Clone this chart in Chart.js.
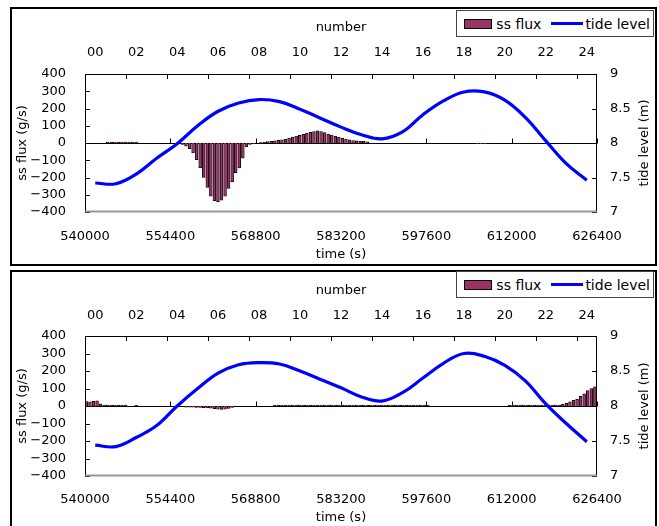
<!DOCTYPE html>
<html lang="en">
<head>
<meta charset="UTF-8">
<title>ss flux / tide level</title>
<script src="https://cdn.jsdelivr.net/npm/chart.js"></script>
<style>
    body {
        margin: 0;
        width: 659px;
        height: 526px;
        overflow: hidden;
        position: relative;
        background: #fff;
        font-family: "DejaVu Sans", sans-serif;
    }
    .panel {
        position: absolute;
        left: 10px;
        width: 643px;
        border: 2px solid #000;
        background: #fff;
    }
    #panel1 { top: 7px; height: 255px; }
    #panel2 { top: 270px; height: 260px; }
    .panel canvas { position: absolute; left: 0; top: 0; }
    .legend {
        position: absolute;
        right: 1px;
        height: 25px;
        display: flex;
        align-items: center;
        border: 1px solid #444;
        background: #fff;
        font-size: 14px;
        color: #000;
        padding: 0 3px 0 7px;
        white-space: nowrap;
    }
    #panel1 .legend { top: 1px; }
    #panel2 .legend { top: -1px; }
    .legend .sw {
        box-sizing: border-box;
        width: 28px;
        height: 10px;
        border: 1px solid #000;
        background: #993366;
        margin-right: 4px;
    }
    .legend .ln {
        width: 32px;
        height: 3px;
        background: #0000ff;
        margin: 0 2px 0 10px;
    }
</style>
</head>
<body>
<div class="panel" id="panel1">
    <canvas id="chart1" width="643" height="255"></canvas>
    <div class="legend"><span class="sw"></span>ss flux<span class="ln"></span>tide level</div>
</div>
<div class="panel" id="panel2">
    <canvas id="chart2" width="643" height="260"></canvas>
    <div class="legend"><span class="sw"></span>ss flux<span class="ln"></span>tide level</div>
</div>

<script>
    // hours on the top "number" axis, one tide value per hour
    const hours = [0, 1, 2, 3, 4, 5, 6, 7, 8, 9, 10, 11, 12, 13, 14, 15, 16, 17, 18, 19, 20, 21, 22, 23, 24];
    const hourLabels = [0, 2, 4, 6, 8, 10, 12, 14, 16, 18, 20, 22, 24];
    const hourTickMarks = [1.5, 3.5, 5.5, 7.5, 9.5, 11.5, 13.5, 15.5, 17.5, 19.5, 21.5, 23.5];

    const tideTop = [7.42, 7.41, 7.55, 7.78, 7.99, 8.25, 8.46, 8.58, 8.63, 8.60, 8.49, 8.36, 8.23,
        8.12, 8.06, 8.16, 8.41, 8.61, 8.74, 8.74, 8.62, 8.37, 8.03, 7.70, 7.46];
    const tideBottom = [7.44, 7.42, 7.55, 7.72, 8.00, 8.25, 8.47, 8.59, 8.62, 8.60, 8.50, 8.38, 8.26,
        8.13, 8.07, 8.19, 8.40, 8.61, 8.75, 8.71, 8.58, 8.36, 8.03, 7.75, 7.49];

    // time axis: 540000 .. 626400 s, flux every 600 s (145 bars)
    const timeTicks = [540000, 554400, 568800, 583200, 597600, 612000, 626400];
    const times = Array.from({length: 145}, (_, i) => 540000 + i * 600);
    const fluxTicks = [-400, -300, -200, -100, 0, 100, 200, 300, 400];
    const tideTicks = [7, 7.5, 8, 8.5, 9];

    const fluxTop = [
        0, 0, 0, 0, 0, 0, 6, 6, 6, 6, 6, 6, 6, 6, 6, 0, 0, 0, 0, 0,
        0, 0, 0, 0, 0, 0, 0, -8, -19, -33, -58, -96, -143, -200, -258, -308, -335, -341, -331, -308,
        -264, -225, -173, -145, -88, -23, -8, -4, 0, 3, 6, 8, 10, 12, 15, 19, 23, 29, 35, 40,
        44, 50, 58, 62, 66, 70, 66, 60, 52, 46, 39, 34, 29, 23, 18, 14, 12, 10, 9, 7,
        0, 0, 0, 0, 0, 0, 0, 0, 0, 0, 0, 0, 0, 0, 0, 0, 0, 0, 0, 0,
        0, 0, 0, 0, 0, 0, 0, 0, 0, 0, -4, -4, -4, 0, 0, 0, 0, 0, 0, 0,
        0, 0, 0, 0, 0, 0, 0, 0, 0, 0, 0, 0, 0, 0, 0, 0, 0, 0, 0, 0,
        0, 0, 0, 0, 0
    ];
    const fluxBottom = [
        25, 24, 26, 30, 12, 5, 5, 5, 5, 5, 5, 5, 0, 0, 4, 0, 0, 0, 0, 0,
        0, 0, 0, 0, 0, 0, 0, 0, -6, -7, -7, -8, -8, -9, -11, -12, -16, -18, -20, -18,
        -14, -8, 0, 0, 0, 0, 0, 0, 0, 0, 0, 0, 0, 5, 5, 5, 5, 5, 5, 5,
        5, 5, 5, 5, 5, 5, 5, 5, 5, 5, 5, 5, 5, 5, 5, 5, 5, 5, 5, 5,
        5, 5, 5, 5, 5, 5, 5, 5, 5, 5, 5, 5, 5, 5, 5, 5, 5, 0, 0, 0,
        0, 0, 0, 0, 0, 0, 0, 0, 0, 0, 0, 0, 0, 0, 0, 0, 0, 0, 0, 5,
        5, 5, 5, 5, 5, 5, 5, 5, 5, 5, 5, 5, 5, 5, 10, 16, 24, 32, 38, 55,
        70, 88, 100, 110, 120
    ];

    Chart.defaults.font.family = '"DejaVu Sans", sans-serif';
    Chart.defaults.font.size = 13;
    Chart.defaults.color = '#000';

    // ticks drawn inside the plot, zero line with ticks, plot frame, right title
    const frame = {
        id: 'frame',
        beforeDatasetsDraw(chart) {
            const {ctx, chartArea: a, scales} = chart;
            const px = v => Math.round(v) + 0.5;
            const y0 = px(scales.y.getPixelForValue(0));
            ctx.save();
            ctx.strokeStyle = '#000';
            ctx.lineWidth = 1;
            ctx.beginPath();
            ctx.moveTo(a.left, y0);
            ctx.lineTo(a.right, y0);
            scales.y.ticks.forEach(t => {
                const p = px(scales.y.getPixelForValue(t.value));
                ctx.moveTo(a.left, p);
                ctx.lineTo(a.left + 5, p);
            });
            scales.y2.ticks.forEach(t => {
                const p = px(scales.y2.getPixelForValue(t.value));
                ctx.moveTo(a.right - 5, p);
                ctx.lineTo(a.right, p);
            });
            scales.x.ticks.forEach(t => {
                const p = px(scales.x.getPixelForValue(t.value));
                ctx.moveTo(p, y0);
                ctx.lineTo(p, y0 - 5);
            });
            hourTickMarks.forEach(h => {
                const p = px(scales.xTop.getPixelForValue(h));
                ctx.moveTo(p, a.top);
                ctx.lineTo(p, a.top + 5);
            });
            ctx.stroke();
            ctx.restore();
        },
        afterDatasetsDraw(chart) {
            const {ctx, chartArea: a} = chart;
            const l = Math.round(a.left) + 0.5, r = Math.round(a.right) - 0.5;
            const t = Math.round(a.top) + 0.5, b = Math.round(a.bottom) - 0.5;
            ctx.save();
            ctx.lineWidth = 1;
            ctx.strokeStyle = '#000';
            ctx.beginPath();
            ctx.moveTo(l, b);
            ctx.lineTo(l, t);
            ctx.lineTo(r, t);
            ctx.lineTo(r, b);
            ctx.stroke();
            ctx.strokeStyle = '#999';
            ctx.lineWidth = 2;
            ctx.beginPath();
            ctx.moveTo(l, b);
            ctx.lineTo(r, b);
            ctx.stroke();
            ctx.restore();
        },
        afterDraw(chart) {
            const {ctx, chartArea: a} = chart;
            ctx.save();
            ctx.font = '13px "DejaVu Sans"';
            ctx.fillStyle = '#000';
            ctx.textAlign = 'center';
            ctx.textBaseline = 'middle';
            ctx.translate(chart.width - 10, (a.top + a.bottom) / 2);
            ctx.rotate(-Math.PI / 2);
            ctx.fillText('tide level (m)', 0, 0);
            ctx.restore();
        }
    };

    function makeChart(id, flux, tide, d) {
        new Chart(document.getElementById(id), {
            type: 'bar',
            data: {
                datasets: [{
                    type: 'line',
                    label: 'tide level',
                    data: hours.map((h, i) => ({x: h, y: tide[i]})),
                    xAxisID: 'xTop',
                    yAxisID: 'y2',
                    borderColor: '#0000ff',
                    borderWidth: 3.2,
                    pointRadius: 0,
                    tension: 0.4,
                    fill: false,
                    order: 0
                }, {
                    type: 'bar',
                    label: 'ss flux',
                    data: times.map((t, i) => ({x: t, y: flux[i]})),
                    xAxisID: 'x',
                    yAxisID: 'y',
                    backgroundColor: '#993366',
                    borderColor: '#000',
                    borderWidth: 0.8,
                    barThickness: 2.8,
                    order: 1
                }]
            },
            options: {
                responsive: false,
                animation: false,
                events: [],
                layout: {padding: 0},
                plugins: {legend: {display: false}, tooltip: {enabled: false}},
                scales: {
                    x: {
                        type: 'linear',
                        position: 'bottom',
                        min: 540000,
                        max: 626400,
                        offset: false,
                        grid: {display: false, drawTicks: false, offset: false},
                        border: {display: false},
                        afterBuildTicks: s => { s.ticks = timeTicks.map(v => ({value: v})); },
                        afterFit: s => { s.height = d.bottom; },
                        ticks: {padding: d.xPad, maxRotation: 0, autoSkip: false, callback: v => String(v)},
                        title: {display: true, text: 'time (s)', padding: {top: 0, bottom: d.xTitle}}
                    },
                    xTop: {
                        type: 'linear',
                        position: 'top',
                        min: -0.5,
                        max: 24.5,
                        offset: false,
                        grid: {display: false, drawTicks: false, offset: false},
                        border: {display: false},
                        afterBuildTicks: s => { s.ticks = hourLabels.map(v => ({value: v})); },
                        afterFit: s => { s.height = d.top; },
                        ticks: {padding: d.topPad, maxRotation: 0, autoSkip: false,
                            callback: v => String(v).padStart(2, '0')},
                        title: {display: true, text: 'number', padding: {top: 11, bottom: 0}}
                    },
                    y: {
                        position: 'left',
                        min: -400,
                        max: 400,
                        grid: {display: false, drawTicks: false},
                        border: {display: false},
                        afterBuildTicks: s => { s.ticks = fluxTicks.map(v => ({value: v})); },
                        afterFit: s => { s.width = 73; },
                        ticks: {padding: 19, autoSkip: false,
                            callback: v => v < 0 ? '\u2212' + Math.abs(v) : String(v)},
                        title: {display: true, text: 'ss flux (g/s)', padding: {top: 3, bottom: 0}}
                    },
                    y2: {
                        position: 'right',
                        min: 7,
                        max: 9,
                        grid: {display: false, drawTicks: false},
                        border: {display: false},
                        afterBuildTicks: s => { s.ticks = tideTicks.map(v => ({value: v})); },
                        afterFit: s => { s.width = 58; },
                        ticks: {padding: 13, autoSkip: false, callback: v => String(v)}
                    }
                }
            },
            plugins: [frame]
        });
    }

    makeChart('chart1', fluxTop, tideTop, {top: 65, bottom: 52, topPad: 14, xPad: 17, xTitle: 2});
    makeChart('chart2', fluxBottom, tideBottom, {top: 64, bottom: 56, topPad: 13, xPad: 16, xTitle: 7});
</script>
</body>
</html>
